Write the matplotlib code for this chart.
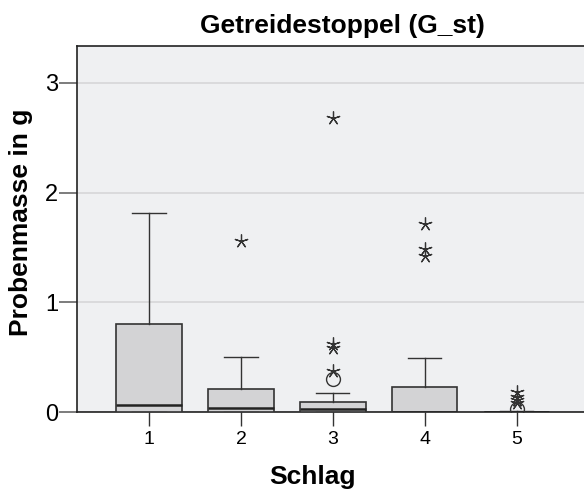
import numpy as np
import matplotlib
matplotlib.use('Agg')
import matplotlib.pyplot as plt

# box statistics (Probenmasse in g per Schlag)
schlag = [1, 2, 3, 4, 5]
q1 = [0.0, 0.0, 0.0, 0.0, 0.0]
med = [0.064, 0.036, 0.027, 0.0, 0.0]
q3 = [0.80, 0.206, 0.092, 0.224, 0.004]
whislo = [0.0, 0.0, 0.0, 0.0, 0.0]
whishi = [1.81, 0.50, 0.17, 0.49, 0.012]

# outliers (circle) and extreme values (star)
circles = {3: [0.305], 5: [0.03]}
stars = {2: [1.56], 3: [2.68, 0.62, 0.58, 0.37], 4: [1.71, 1.49, 1.42], 5: [0.18, 0.14, 0.11, 0.08]}

plt.rcParams['font.family'] = ['Liberation Sans', 'DejaVu Sans']

fig = plt.figure(figsize=(5.84, 4.93), dpi=100)
ax = fig.add_axes([0.1315, 0.1643, 0.877, 0.7424])
ax.set_facecolor('#eff0f2')

stats = []
for i in range(len(schlag)):
    stats.append({'label': str(schlag[i]), 'q1': q1[i], 'med': med[i], 'q3': q3[i],
                  'whislo': whislo[i], 'whishi': whishi[i], 'fliers': []})

ax.bxp(stats, positions=schlag, widths=0.71, patch_artist=True, showfliers=False,
       boxprops=dict(facecolor='#d3d3d5', edgecolor='#333333', linewidth=1.2),
       medianprops=dict(color='#222222', linewidth=1.8),
       whiskerprops=dict(color='#333333', linewidth=1.0),
       capprops=dict(color='#333333', linewidth=1.0), capwidths=0.36, zorder=3)

for k, vals in circles.items():
    ax.plot([k] * len(vals), vals, linestyle='none', marker='o', ms=10,
            mfc='none', mec='#333333', mew=1.0, zorder=4)
for k, vals in stars.items():
    ax.plot([k] * len(vals), vals, linestyle='none', marker=(5, 2, 0), ms=10,
            mec='#333333', mew=0.9, zorder=4)

ax.set_xlim(0.214, 5.786)
ax.set_ylim(0, 3.336)
ax.set_yticks([0, 1, 2, 3])
ax.set_yticklabels(['0', '1', '2', '3'], fontsize=17)
ax.set_xticks(schlag)
ax.set_xticklabels([str(s) for s in schlag], fontsize=14)
ax.tick_params(axis='y', length=13, width=1.2, color='#666666', pad=0.5)
ax.tick_params(axis='x', length=10, width=1.0, color='#333333', pad=4)
ax.yaxis.grid(True, color='#d6d6d8', linewidth=1.2)
ax.set_axisbelow(True)
for s in ['left', 'bottom', 'top']:
    ax.spines[s].set_color('#222222')
    ax.spines[s].set_linewidth(1.2)
ax.spines['right'].set_visible(False)

fig.text(312 / 584, 1 - 484 / 493, 'Schlag', fontsize=19, fontweight='bold',
         ha='center', va='baseline')
fig.text(21 / 584, 1 - 222 / 493, 'Probenmasse in g', fontsize=19, fontweight='bold',
         ha='center', va='center', rotation=90)
fig.text(342 / 584, 1 - 33 / 493, 'Getreidestoppel (G_st)', fontsize=19,
         fontweight='bold', ha='center', va='baseline')

fig.savefig('out.png', dpi=100)
